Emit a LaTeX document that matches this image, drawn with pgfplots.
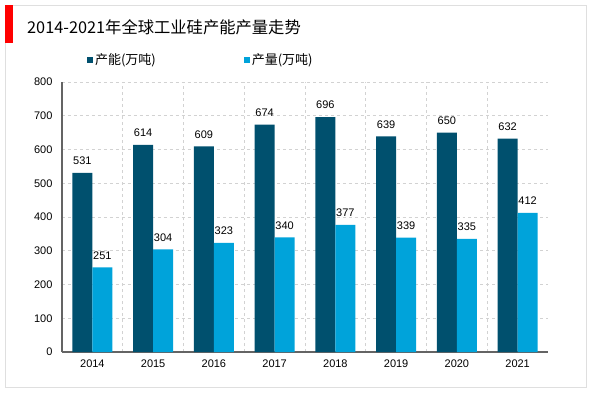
\documentclass[border=0pt]{standalone}
\usepackage{pgfplots}
\pgfplotsset{compat=1.18}
\usepackage{fontspec}
\setmainfont{Liberation Sans}
\newfontfamily\cjk{Noto Sans CJK SC}
\definecolor{darkbar}{RGB}{0,80,110}
\definecolor{lightbar}{RGB}{0,163,218}
\definecolor{axgray}{RGB}{100,100,100}
\begin{document}
\begin{tikzpicture}[x=1bp,y=1bp]
\path[use as bounding box] (0,0) rectangle (600,393);
\draw[gray!25, line width=0.8bp] (5,6) rectangle (586,388);
\fill[red] (5,350) rectangle (13,388);
\node[anchor=west, font=\fontsize{16.3bp}{18bp}\selectfont\cjk, inner sep=0] at (27,366) {2014-2021年全球工业硅产能产量走势};
\begin{axis}[
  at={(62bp,41bp)}, anchor=south west,
  scale only axis, width=486bp, height=270bp,
  ybar=0pt, bar width=20bp,
  xmin=-0.5, xmax=7.5, ymin=0, ymax=800,
  xtick={0,...,7},
  xticklabels={2014,2015,2016,2017,2018,2019,2020,2021},
  minor xtick={0.5,1.5,...,6.5},
  ytick={0,100,...,800},
  axis x line*=bottom, axis y line*=left,
  axis line style={axgray, line width=1.2bp, -},
  major tick length=0pt, minor tick length=0pt,
  ymajorgrids, xminorgrids,
  major grid style={dashed, gray!35, line width=0.6bp},
  minor grid style={dashed, gray!35, line width=0.6bp},
  tick label style={font=\fontsize{11bp}{12bp}\selectfont},
  /pgf/number format/assume math mode=true,
  yticklabel style={xshift=-6bp},
  xticklabel style={yshift=-4bp},
  nodes near coords,
  nodes near coords style={font=\fontsize{11bp}{12bp}\selectfont, yshift=4.5bp},
  legend style={at={(0.045,1.12)}, anchor=north west, draw=none, fill=none,
    font=\fontsize{13bp}{15bp}\selectfont\cjk, legend columns=2,
    /tikz/every even column/.append style={column sep=86bp}},
  legend image code/.code={\fill[#1] (0bp,-3bp) rectangle (6bp,3bp);},
]
\addplot[fill=darkbar, draw=none] coordinates {(0,531) (1,614) (2,609) (3,674) (4,696) (5,639) (6,650) (7,632)};
\addplot[fill=lightbar, draw=none] coordinates {(0,251) (1,304) (2,323) (3,340) (4,377) (5,339) (6,335) (7,412)};
\legend{产能(万吨),产量(万吨)}
\end{axis}
\end{tikzpicture}
\end{document}
